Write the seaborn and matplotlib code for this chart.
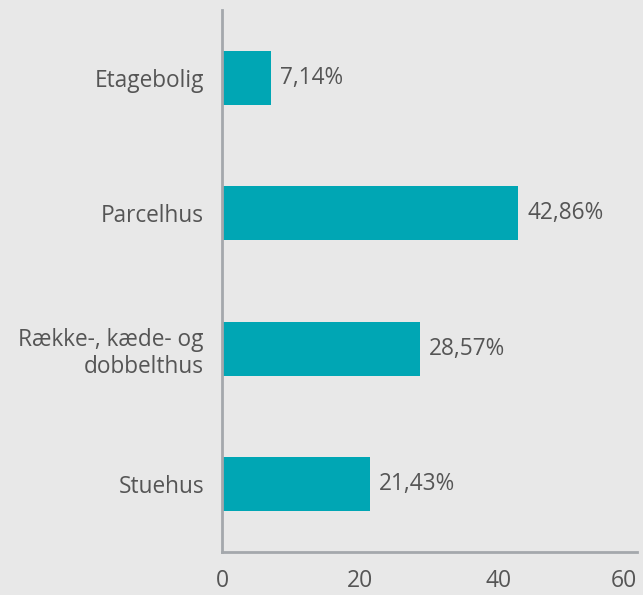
import seaborn as sns
import matplotlib.pyplot as plt
import pandas as pd

categories = ['Etagebolig', 'Parcelhus', 'Række-, kæde- og\ndobbelthus', 'Stuehus']
percent = [7.14, 42.86, 28.57, 21.43]
value_labels = ['7,14%', '42,86%', '28,57%', '21,43%']
x_ticks = [0, 20, 40, 60]

df = pd.DataFrame({'Boligtype': categories, 'Procent': percent})

sns.set_style('white')
plt.rcParams['font.family'] = ['Open Sans', 'DejaVu Sans']

bg = '#e8e8e8'
axis_col = '#a4a8ac'
text_col = '#555555'

fig = plt.figure(figsize=(6.43, 5.95), dpi=100, facecolor=bg)
ax = fig.add_axes([0.3453, 0.0723, 0.6454, 0.9107])
ax.set_facecolor(bg)

sns.barplot(data=df, y='Boligtype', x='Procent', color='#00a6b4',
            width=0.4, saturation=1, linewidth=0, ax=ax)

ax.bar_label(ax.containers[0], labels=value_labels, padding=6.5,
             fontsize=16.3, color=text_col)

ax.set_xlim(0, 60)
ax.set_ylim(3.5, -0.5)
ax.set_xticks(x_ticks)
ax.set_xlabel('')
ax.set_ylabel('')

for side in ['top', 'right']:
    ax.spines[side].set_visible(False)
for side in ['left', 'bottom']:
    ax.spines[side].set_color(axis_col)
    ax.spines[side].set_linewidth(2)

ax.tick_params(axis='both', colors=axis_col, length=10, width=2,
               labelsize=16.3, labelcolor=text_col)
ax.tick_params(axis='x', labelsize=16.5, pad=2)
ax.tick_params(axis='y', pad=3)
for lbl in ax.get_yticklabels():
    lbl.set_horizontalalignment('right')
    lbl.set_multialignment('right')
ax.get_xticklabels()[-1].set_horizontalalignment('right')

fig.savefig('out.png', dpi=100, facecolor=bg)
